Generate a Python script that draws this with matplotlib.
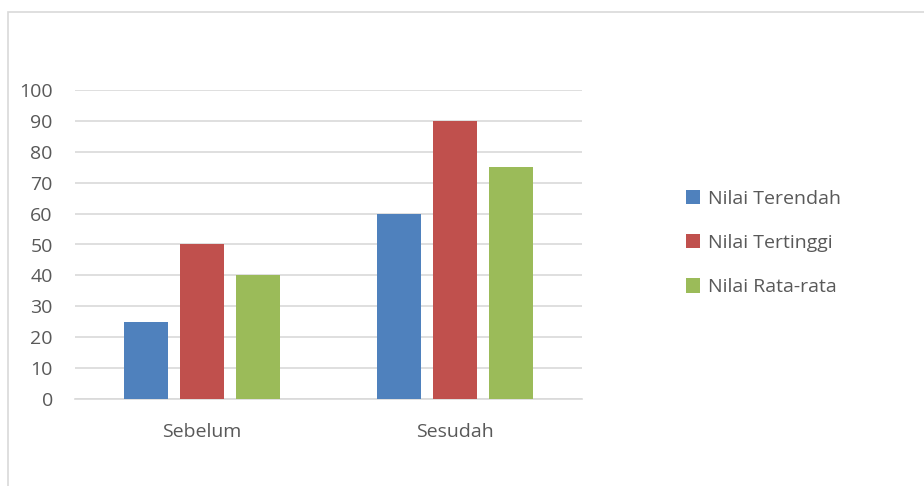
import matplotlib.pyplot as plt
from matplotlib.patches import Rectangle
import numpy as np

categories = ["Sebelum", "Sesudah"]
series_names = ["Nilai Terendah", "Nilai Tertinggi", "Nilai Rata-rata"]
nilai_terendah = [25, 60]
nilai_tertinggi = [50, 90]
nilai_rata = [40, 75]
colors = ["#4F81BD", "#C0504D", "#9BBB59"]
yticks = list(range(0, 101, 10))

plt.rcParams['font.family'] = ['Open Sans', 'DejaVu Sans']

W, H = 924, 486
fig = plt.figure(figsize=(W / 100, H / 100), dpi=100)
# outer chart border (cropped on right and bottom)
fig.patches.append(Rectangle((8 / W, -0.1), 1.2, 1 - 12 / H + 0.1, transform=fig.transFigure,
                             fill=False, edgecolor="#D9D9D9", linewidth=1.2))

ax = fig.add_axes([75 / W, 1 - 399 / H, 507 / W, 309 / H])
x = np.arange(len(categories))
width = 44 / 253
step = 56 / 253
for i, vals in enumerate([nilai_terendah, nilai_tertinggi, nilai_rata]):
    ax.bar(x + (i - 1) * step, vals, width, color=colors[i], label=series_names[i], zorder=3)

ax.set_xlim(-0.5, 1.5)
ax.set_ylim(0, 100)
ax.set_yticks(yticks)
ax.set_xticks(x)
ax.set_xticklabels(categories)
ax.grid(axis="y", color="#D9D9D9", linewidth=1.2, zorder=0)
for s in ["top", "right", "left"]:
    ax.spines[s].set_visible(False)
ax.spines["bottom"].set_color("#D9D9D9")
ax.spines["bottom"].set_linewidth(1.2)
ax.tick_params(length=0, colors="#595959", labelsize=14)
ax.tick_params(axis="x", pad=17)
ax.tick_params(axis="y", pad=16)

handles, labels = ax.get_legend_handles_labels()
fig.legend(handles, labels, loc="center left", bbox_to_anchor=(668 / W, 1 - 243 / H),
           frameon=False, fontsize=14, labelcolor="#595959", handlelength=0.75,
           handleheight=0.75, handletextpad=0.4, labelspacing=1.35)

fig.savefig("out.png", dpi=100)
